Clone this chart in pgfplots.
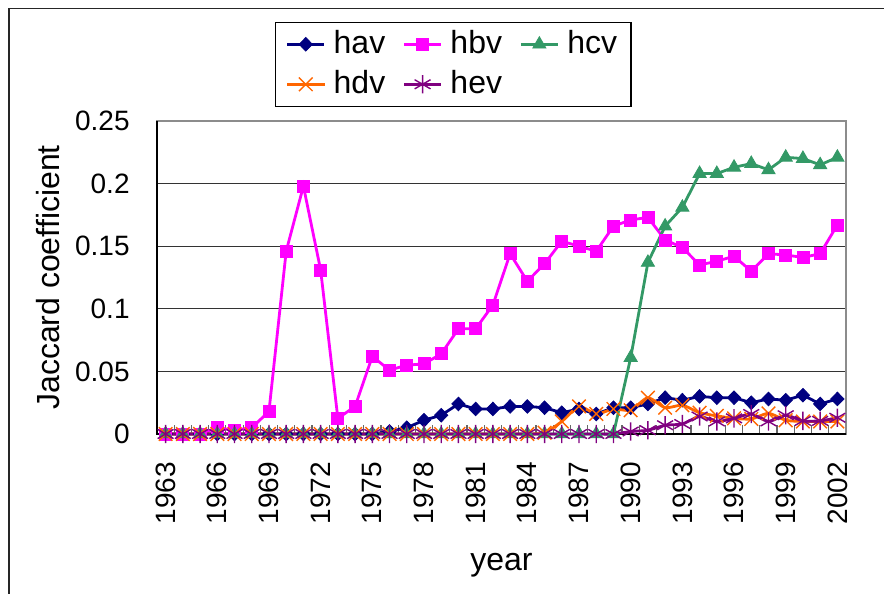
\documentclass[border=0pt]{standalone}
\usepackage{pgfplots}
\pgfplotsset{compat=1.18}
\usepackage{fontspec}
\setmainfont{Liberation Sans}
\definecolor{cnavy}{RGB}{0,0,128}
\definecolor{cmag}{RGB}{255,0,255}
\definecolor{cgreen}{RGB}{51,153,102}
\definecolor{corange}{RGB}{255,102,0}
\definecolor{cpurple}{RGB}{128,0,128}
\begin{document}
\begin{tikzpicture}
\useasboundingbox (0,0) rectangle (442pt,-297pt);
\draw[line width=0.6pt, black!85] (4.5pt,-297pt) -- (4.5pt,-4.25pt) -- (442pt,-4.25pt);
\begin{axis}[
  at={(78.5pt,-217pt)}, anchor=south west,
  scale only axis, width=344.5pt, height=156.5pt,
  xmin=1962.5, xmax=2002.5, ymin=0, ymax=0.25,
  clip=false,
  axis line style={draw=black!45, line width=0.6pt},
  ytick={0,0.05,0.1,0.15,0.2}, yticklabels={0,0.05,0.1,0.15,0.2},
  extra y ticks={0.25}, extra y tick labels={0.25}, extra y tick style={grid=none},
  ymajorgrids, grid style={black!80, line width=0.5pt},
  ytick style={draw=none},
  xtick={1963,1966,1969,1972,1975,1978,1981,1984,1987,1990,1993,1996,1999,2002},
  xticklabels={1963,1966,1969,1972,1975,1978,1981,1984,1987,1990,1993,1996,1999,2002},
  minor xtick={1962.5,1963.5,...,2002.5},
  major x tick style={draw=none},
  minor x tick style={draw=black!60, line width=0.6pt},
  minor tick length=4.5pt,
  tick align=inside, tick pos=left,
  ticklabel style={font=\fontsize{14}{16}\selectfont},
  xticklabel style={rotate=90, anchor=east, inner sep=0pt},
  yticklabel style={anchor=east, inner sep=0pt},
  xticklabel shift=13.85pt, yticklabel shift=13.5pt,
  label style={font=\fontsize{16}{19}\selectfont},
  xlabel={year},
  xlabel style={at={([yshift=-65.5pt]axis description cs:0.5,0)}, anchor=center},
  ylabel={Jaccard coefficient},
  ylabel style={at={([xshift=-54.5pt]axis description cs:0,0.5)}, anchor=center},
  legend columns=3,
  legend style={at={(0.4303,1.3173)}, anchor=north, draw=black, line width=0.6pt,
    font=\fontsize{16}{19}\selectfont, inner xsep=5pt, inner ysep=1pt,
    nodes={inner sep=2pt, text height=12.5pt, text depth=3.5pt},
    /tikz/every odd column/.append style={column sep=2pt},
    /tikz/every even column/.append style={column sep=6.7pt}},
  legend cell align=left,
  legend image code/.code={\draw[mark repeat=2,mark phase=2,#1] plot coordinates {(0pt,0pt)(9.25pt,0pt)(18.5pt,0pt)};},
]
\draw[black, line width=0.6pt] (rel axis cs:0,1) -- (rel axis cs:0,0) -- (rel axis cs:1,0);
\addplot[cnavy, line width=1.4pt, mark=diamond*, mark size=3.4pt, mark options={xscale=1.3, line width=0.4pt}] coordinates {
(1963,0) (1964,0) (1965,0) (1966,0) (1967,0) (1968,0) (1969,0) (1970,0) (1971,0) (1972,0)
(1973,0) (1974,0) (1975,0) (1976,0.002) (1977,0.005) (1978,0.011) (1979,0.015) (1980,0.024) (1981,0.020) (1982,0.020)
(1983,0.022) (1984,0.022) (1985,0.021) (1986,0.017) (1987,0.020) (1988,0.016) (1989,0.021) (1990,0.021) (1991,0.024) (1992,0.029)
(1993,0.027) (1994,0.030) (1995,0.029) (1996,0.029) (1997,0.025) (1998,0.028) (1999,0.027) (2000,0.031) (2001,0.024) (2002,0.028)};
\addlegendentry{hav}
\addplot[cmag, line width=1.4pt, mark=square*, mark size=3pt, mark options={line width=0.4pt}] coordinates {
(1963,0) (1964,0) (1965,0) (1966,0.005) (1967,0.003) (1968,0.005) (1969,0.018) (1970,0.146) (1971,0.198) (1972,0.131)
(1973,0.0125) (1974,0.022) (1975,0.062) (1976,0.051) (1977,0.055) (1978,0.056) (1979,0.064) (1980,0.084) (1981,0.084) (1982,0.103)
(1983,0.144) (1984,0.122) (1985,0.136) (1986,0.154) (1987,0.150) (1988,0.146) (1989,0.166) (1990,0.171) (1991,0.173) (1992,0.155)
(1993,0.149) (1994,0.135) (1995,0.138) (1996,0.142) (1997,0.130) (1998,0.144) (1999,0.143) (2000,0.141) (2001,0.144) (2002,0.167)};
\addlegendentry{hbv}
\addplot[cgreen, line width=1.4pt, mark=triangle*, mark size=3.8pt, mark options={line width=0.4pt}] coordinates {
(1963,0) (1964,0) (1965,0) (1966,0) (1967,0) (1968,0) (1969,0) (1970,0) (1971,0) (1972,0)
(1973,0) (1974,0) (1975,0) (1976,0) (1977,0) (1978,0) (1979,0) (1980,0) (1981,0) (1982,0)
(1983,0) (1984,0) (1985,0) (1986,0) (1987,0) (1988,0) (1989,0) (1990,0.061) (1991,0.137) (1992,0.166)
(1993,0.181) (1994,0.208) (1995,0.208) (1996,0.213) (1997,0.216) (1998,0.211) (1999,0.221) (2000,0.220) (2001,0.215) (2002,0.221)};
\addlegendentry{hcv}
\addplot[corange, line width=1.4pt, smooth, tension=0.4, mark=x, mark size=4.8pt, mark options={line width=0.7pt}] coordinates {
(1963,0) (1964,0) (1965,0) (1966,0) (1967,0) (1968,0) (1969,0) (1970,0) (1971,0) (1972,0)
(1973,0) (1974,0) (1975,0) (1976,0) (1977,0) (1978,0) (1979,0) (1980,0) (1981,0) (1982,0)
(1983,0) (1984,0) (1985,0.001) (1986,0.010) (1987,0.022) (1988,0.016) (1989,0.020) (1990,0.019) (1991,0.029) (1992,0.021)
(1993,0.023) (1994,0.017) (1995,0.0145) (1996,0.0125) (1997,0.012) (1998,0.0165) (1999,0.011) (2000,0.010) (2001,0.010) (2002,0.010)};
\addlegendentry{hdv}
\addplot[cpurple, line width=1.4pt, smooth, tension=0.4, mark=asterisk, mark size=4.6pt, mark options={line width=0.7pt}] coordinates {
(1963,0) (1964,0) (1965,0) (1966,0) (1967,0) (1968,0) (1969,0) (1970,0) (1971,0) (1972,0)
(1973,0) (1974,0) (1975,0) (1976,0) (1977,0) (1978,0) (1979,0) (1980,0) (1981,0) (1982,0)
(1983,0) (1984,0) (1985,0) (1986,0) (1987,0) (1988,0) (1989,0) (1990,0.002) (1991,0.003) (1992,0.007)
(1993,0.008) (1994,0.014) (1995,0.010) (1996,0.0125) (1997,0.016) (1998,0.010) (1999,0.015) (2000,0.0105) (2001,0.0105) (2002,0.013)};
\addlegendentry{hev}
\end{axis}
\end{tikzpicture}
\end{document}
